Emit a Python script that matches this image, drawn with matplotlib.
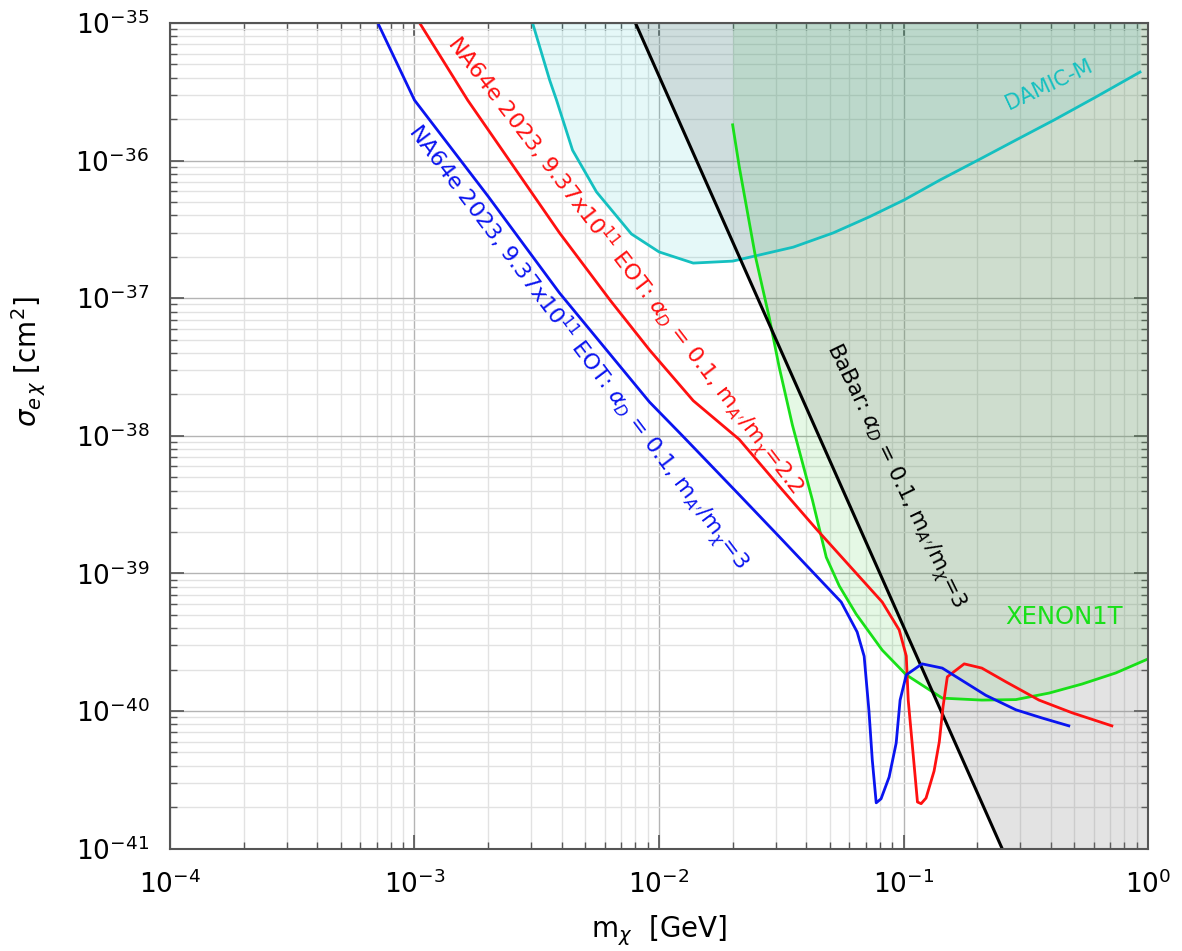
import matplotlib

matplotlib.use("Agg")
import matplotlib.pyplot as plt  # noqa: E402
import numpy as np  # noqa: E402

# --- data ------------------------------------------------------------------ #
blue_x = [7.08e-4, 1.0e-3, 2.0e-3, 3.92e-3, 9.14e-3, 1.247e-2, 2.13e-2, 3.10e-2,
          4.11e-2, 5.56e-2, 6.46e-2, 6.90e-2, 7.22e-2, 7.45e-2, 7.73e-2, 8.09e-2,
          8.73e-2, 9.33e-2, 9.68e-2, 1.026e-1, 1.19e-1, 1.44e-1, 1.80e-1, 2.17e-1,
          2.88e-1, 3.68e-1, 4.74e-1]
blue_y = [1.0e-35, 2.75e-36, 5.5e-37, 1.09e-37, 1.76e-38, 1.0e-38, 3.72e-39, 1.85e-39,
          1.09e-39, 6.19e-40, 3.75e-40, 2.5e-40, 1.0e-40, 4.4e-41, 2.15e-41, 2.3e-41,
          3.31e-41, 5.85e-41, 1.2e-40, 1.83e-40, 2.2e-40, 2.05e-40, 1.6e-40, 1.3e-40,
          1.02e-40, 8.9e-41, 7.8e-41]

red_x = [1.05e-3, 1.65e-3, 3.92e-3, 6.33e-3, 9.14e-3, 1.38e-2, 2.13e-2, 3.10e-2,
         4.40e-2, 8.18e-2, 9.6e-2, 1.026e-1, 1.045e-1, 1.10e-1, 1.14e-1, 1.18e-1,
         1.236e-1, 1.333e-1, 1.40e-1, 1.45e-1, 1.51e-1, 1.77e-1, 2.09e-1, 2.62e-1,
         3.58e-1, 4.89e-1, 7.11e-1]
red_y = [1.0e-35, 2.75e-36, 2.98e-37, 9.6e-38, 4.21e-38, 1.8e-38, 9.4e-39, 4.3e-39,
         2.1e-39, 6.19e-40, 3.88e-40, 2.51e-40, 1.2e-40, 4.4e-41, 2.18e-41, 2.12e-41,
         2.33e-41, 3.66e-41, 5.96e-41, 1.07e-40, 1.77e-40, 2.2e-40, 2.05e-40, 1.63e-40,
         1.2e-40, 9.7e-41, 7.8e-41]

xenon_x = [2.0e-2, 2.13e-2, 2.48e-2, 2.82e-2, 3.10e-2, 3.51e-2, 4.24e-2, 4.83e-2,
           5.46e-2, 6.4e-2, 8.18e-2, 1.026e-1, 1.44e-1, 2.09e-1, 2.88e-1, 3.94e-1,
           5.37e-1, 7.38e-1, 1.0]
xenon_y = [1.82e-36, 8.97e-37, 2.0e-37, 7.3e-38, 3.16e-38, 1.2e-38, 3.41e-39, 1.31e-39,
           8.1e-40, 5.06e-40, 2.77e-40, 1.83e-40, 1.24e-40, 1.2e-40, 1.21e-40, 1.35e-40,
           1.57e-40, 1.89e-40, 2.39e-40]

damic_x = [3.04e-3, 3.57e-3, 3.81e-3, 4.43e-3, 5.55e-3, 7.71e-3, 1.0e-2, 1.38e-2,
           2.0e-2, 2.57e-2, 3.54e-2, 5.15e-2, 7.22e-2, 1.006e-1, 1.41e-1, 2.02e-1,
           2.88e-1, 4.12e-1, 6.12e-1, 9.27e-1]
damic_y = [1.0e-35, 3.85e-36, 2.75e-36, 1.19e-36, 5.92e-37, 2.93e-37, 2.17e-37, 1.8e-37,
           1.86e-37, 2.06e-37, 2.35e-37, 2.98e-37, 3.89e-37, 5.18e-37, 7.23e-37, 1.01e-36,
           1.41e-36, 1.97e-36, 2.9e-36, 4.4e-36]

babar_x = [8.01e-3, 2.53e-1]
babar_y = [1.0e-35, 1.0e-41]

XLIM = (1e-4, 1.0)
YLIM = (1e-41, 1e-35)

NA64_RED = r"NA64e 2023, 9.37x10$^{11}$ EOT: $\alpha_D$ = 0.1, m$_{A'}$/m$_\chi$=2.2"
NA64_BLUE = r"NA64e 2023, 9.37x10$^{11}$ EOT: $\alpha_D$ = 0.1, m$_{A'}$/m$_\chi$=3"
BABAR_LBL = r"BaBar: $\alpha_D$ = 0.1, m$_{A'}$/m$_\chi$=3"

C_BLUE, C_RED, C_GREEN, C_CYAN = "#0a14f0", "#ff1010", "#18e018", "#14c0c0"

fig = plt.figure(figsize=(11.82, 9.51), dpi=100)
ax = fig.add_axes([0.1438, 0.1077, 0.8275, 0.8681])
ax.set_xscale("log")
ax.set_yscale("log")
ax.set_xlim(*XLIM)
ax.set_ylim(*YLIM)

# shaded exclusion regions
ax.fill_between(xenon_x, xenon_y, YLIM[1], color="#00c000", alpha=0.10, lw=0)
ax.fill_between(damic_x, damic_y, YLIM[1], color="#00c0c0", alpha=0.10, lw=0)
bx = np.array(babar_x + [XLIM[1], XLIM[1]])
by = np.array(babar_y + [babar_y[1], babar_y[0]])
ax.fill(bx, by, color="#808080", alpha=0.22, lw=0)

# curves
ax.plot(damic_x, damic_y, color=C_CYAN, lw=2.0)
ax.plot(xenon_x, xenon_y, color=C_GREEN, lw=2.0)
ax.plot(babar_x, babar_y, color="black", lw=2.2)
ax.plot(red_x, red_y, color=C_RED, lw=2.0)
ax.plot(blue_x, blue_y, color=C_BLUE, lw=2.0)

# in-plot labels
kw = dict(ha="center", va="center", rotation_mode="anchor")
ax.text(7.23e-3, 1.74e-37, NA64_RED, color=C_RED, rotation=-52.5, fontsize=16, **kw)
ax.text(4.65e-3, 4.42e-38, NA64_BLUE, color=C_BLUE, rotation=-53, fontsize=16, **kw)
ax.text(9.25e-2, 5.1e-39, BABAR_LBL, color="black", rotation=-64, fontsize=15.5, **kw)
ax.text(0.394, 3.55e-36, "DAMIC-M", color=C_CYAN, rotation=25, fontsize=15, **kw)
ax.text(0.453, 4.82e-40, "XENON1T", color=C_GREEN, fontsize=17.5, **kw)

# grid / ticks
ax.grid(which="major", color="#b4b4b4", lw=1.0)
ax.grid(which="minor", color="#e2e2e2", lw=1.0)
ax.set_axisbelow(True)
ax.xaxis.set_major_locator(matplotlib.ticker.FixedLocator(np.logspace(-4, 0, 5)))
ax.yaxis.set_major_locator(matplotlib.ticker.FixedLocator(np.logspace(-41, -35, 7)))
ax.yaxis.set_minor_locator(matplotlib.ticker.LogLocator(base=10, subs=np.arange(2, 10)))
ax.xaxis.set_minor_locator(matplotlib.ticker.LogLocator(base=10, subs=np.arange(2, 10)))
ax.xaxis.set_major_formatter(matplotlib.ticker.LogFormatterSciNotation())
ax.yaxis.set_major_formatter(matplotlib.ticker.LogFormatterSciNotation())
ax.yaxis.set_minor_formatter(matplotlib.ticker.NullFormatter())
ax.xaxis.set_minor_formatter(matplotlib.ticker.NullFormatter())
ax.tick_params(which="both", direction="in", top=True, right=True,
               colors="#555555", labelcolor="black")
ax.tick_params(which="major", length=10, width=1.2)
ax.tick_params(which="minor", length=5, width=1.0)
ax.tick_params(axis="y", which="major", labelsize=19, pad=15)
ax.tick_params(axis="x", which="major", labelsize=19, pad=16)
for s in ax.spines.values():
    s.set_color("#555555")
    s.set_linewidth(1.5)

ax.set_xlabel(r"m$_\chi$  [GeV]", fontsize=20, labelpad=10)
ax.set_ylabel(r"$\sigma_{e\,\chi}$ [cm$^2$]", fontsize=20)
ax.yaxis.set_label_coords(-0.125, 0.59)

fig.savefig("out.png", dpi=100)
